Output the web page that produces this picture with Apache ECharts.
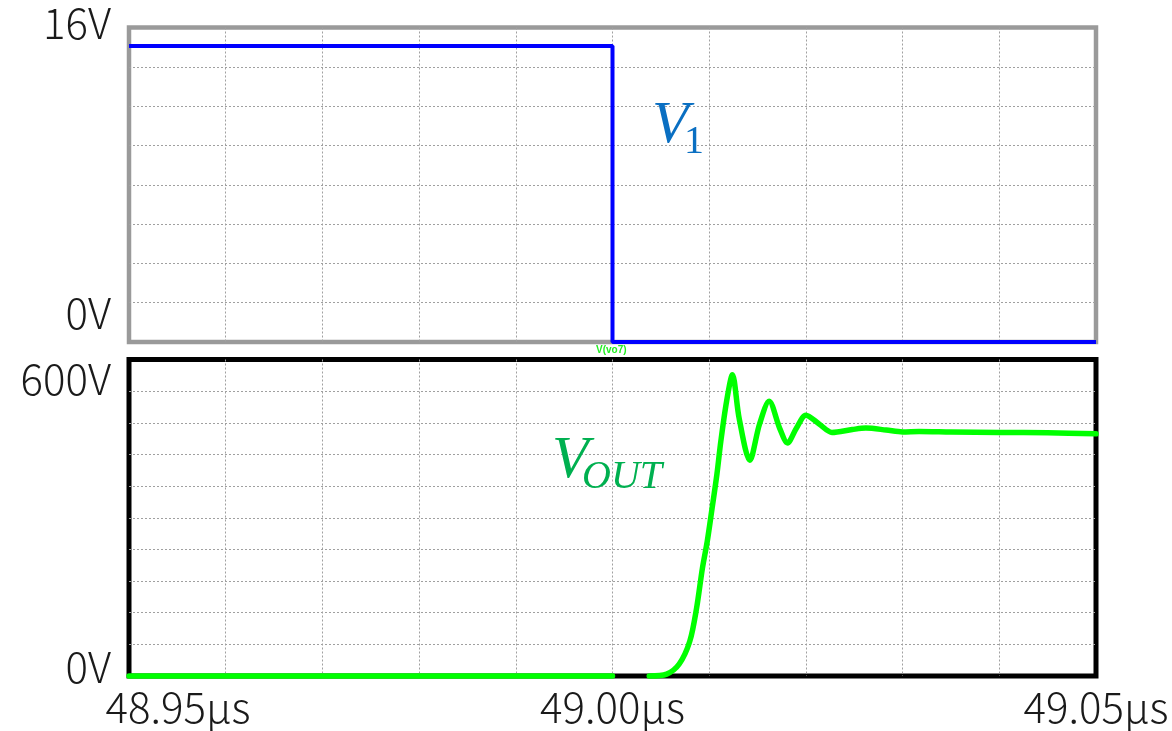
<!DOCTYPE html>
<html>
<head>
<meta charset="utf-8">
<script src="https://cdn.jsdelivr.net/npm/echarts@6/dist/echarts.min.js"></script>
<style>
html,body{margin:0;padding:0;background:#fff;}
#c{width:1172px;height:731px;}
</style>
</head>
<body>
<div id="c"></div>
<script>
// time in ns
const timeNs = [48950, 49050];
const xTickLabels = {48950: '48.95µs', 49000: '49.00µs', 49050: '49.05µs'};
const topTickLabels = {16: '16V', 0: '0V'};
const bottomTickLabels = {600: '600V', 0: '0V'};

// V1 (volts)
const v1Time = [48950, 49000, 49000, 49050];
const v1Volt = [16, 16, 0, 0];

// V(vo7) output (volts); null = gap
const voutTime = [48950, 49000, 49002, 49003.8, 49005.6, 49006.9, 49008.0, 49008.7, 49009.3, 49009.8, 49010.3, 49010.8, 49011.2, 49011.8, 49012.4, 49013.1, 49014.2, 49015.2, 49016.2, 49017.3, 49018.1, 49019.0, 49020.0, 49021.4, 49022.7, 49024.8, 49026.2, 49028.3, 49030.0, 49031.7, 49035.0, 49040.0, 49045.0, 49050];
const voutVolt = [0, 0, null, 0, 4, 25, 73, 142, 225, 281, 350, 421, 489, 573, 628, 537, 450, 525, 573, 516, 486, 516, 544, 525, 508, 514, 517, 513, 509, 510, 509, 508, 507, 505];

const v1Data = v1Time.map((t, i) => [t, v1Volt[i]]);
const voutData = voutTime.map((t, i) => [t, voutVolt[i]]);

const labelFont = 'Noto Sans CJK JP';
const labelColor = '#1a1a1a';
const labelSize = 42;
const gridLine = {show: true, showMinLine: false, showMaxLine: false,
  lineStyle: {color: '#a0a0a0', width: 1, type: [2, 2]}};
function tok(pad) {
  return {fontFamily: labelFont, fontSize: labelSize, fontWeight: 300, color: labelColor, padding: pad};
}

const chart = echarts.init(document.getElementById('c'));
chart.setOption({
  animation: false,
  backgroundColor: '#ffffff',
  grid: [
    {left: 129, right: 76, top: 27.5, height: 314.5, show: true, borderColor: '#9a9a9a', borderWidth: 4.5, backgroundColor: 'transparent'},
    {left: 129, right: 76, top: 359.5, bottom: 55, show: true, borderColor: '#000000', borderWidth: 5, backgroundColor: 'transparent'}
  ],
  xAxis: [
    {type: 'value', gridIndex: 0, min: timeNs[0], max: timeNs[1], interval: 10,
     axisLine: {show: false}, axisTick: {show: false}, axisLabel: {show: false}, splitLine: gridLine},
    {type: 'value', gridIndex: 1, min: timeNs[0], max: timeNs[1], interval: 10,
     axisLine: {show: false}, axisTick: {show: false}, splitLine: gridLine,
     axisLabel: {show: true, margin: 10, color: labelColor, fontFamily: labelFont, fontSize: labelSize,
       formatter: function (v) {
         const s = xTickLabels[Math.round(v)];
         if (!s) return '';
         return Math.round(v) === timeNs[0] ? '{first|' + s + '}' : '{n|' + s + '}';
       },
       rich: {first: tok([0, 0, 0, 98]), n: tok([0, 0, 0, 0])}}}
  ],
  yAxis: [
    {type: 'value', gridIndex: 0, min: 0, max: 17, interval: 2.125,
     axisLine: {show: false}, axisTick: {show: false}, splitLine: gridLine,
     axisLabel: {show: true, margin: 18, color: labelColor, fontFamily: labelFont, fontSize: labelSize,
       customValues: [0, 16],
       formatter: function (v) {
         const k = Math.round(v);
         return k === 16 ? '{hi|' + topTickLabels[k] + '}' : '{lo|' + topTickLabels[k] + '}';
       },
       rich: {hi: tok([0, 0, 46, 0]), lo: tok([0, 0, 58, 0])}}},
    {type: 'value', gridIndex: 1, min: 0, max: 660, interval: 66,
     axisLine: {show: false}, axisTick: {show: false}, splitLine: gridLine,
     axisLabel: {show: true, margin: 18, color: labelColor, fontFamily: labelFont, fontSize: labelSize,
       customValues: [0, 600],
       formatter: function (v) { return '{b|' + (bottomTickLabels[Math.round(v)] || '') + '}'; },
       rich: {b: tok([0, 0, 18, 0])}}}
  ],
  series: [
    {name: 'V1', type: 'line', xAxisIndex: 0, yAxisIndex: 0, data: v1Data, showSymbol: false, symbol: 'none',
     clip: false, lineStyle: {color: '#0000ff', width: 4}, z: 5},
    {name: 'V(vo7)', type: 'line', xAxisIndex: 1, yAxisIndex: 1, data: voutData, showSymbol: false, symbol: 'none',
     clip: false, connectNulls: false, smooth: 0.3,
     lineStyle: {color: '#00ff00', width: 5.5, join: 'round', cap: 'round'}, z: 5}
  ],
  graphic: [
    {type: 'text', left: 595, top: 345, z: 10,
     style: {text: 'V(vo7)', fill: '#22ee22', font: 'bold 10px "Liberation Sans"', backgroundColor: '#ffffff', padding: [0, 1, 0, 1]}},
    {type: 'text', left: 652, top: 96, z: 10,
     style: {text: 'V', fill: '#0a6fc2', font: 'italic 60px "Liberation Serif"'}},
    {type: 'text', left: 684, top: 122, z: 10,
     style: {text: '1', fill: '#0a6fc2', font: '40px "Liberation Serif"'}},
    {type: 'text', left: 552, top: 431, z: 10,
     style: {text: 'V', fill: '#00b050', font: 'italic 60px "Liberation Serif"'}},
    {type: 'text', left: 582, top: 457, z: 10,
     style: {text: 'OUT', fill: '#00b050', font: 'italic 40px "Liberation Serif"'}}
  ]
});
</script>
</body>
</html>
